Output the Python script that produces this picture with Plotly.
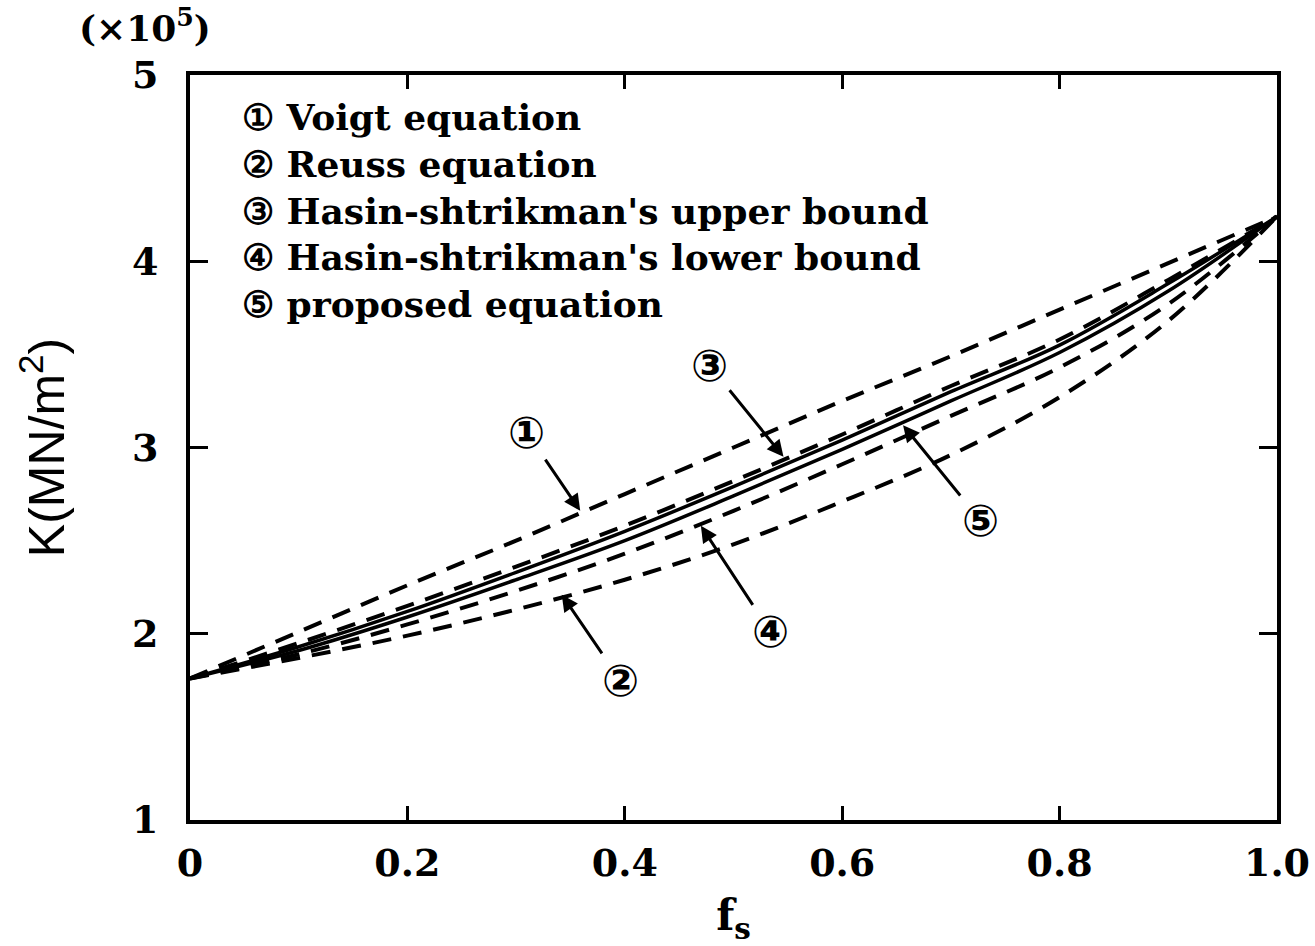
import plotly.graph_objects as go

# Solid volume fraction
f_s = [0.0, 0.1, 0.2, 0.3, 0.4, 0.5, 0.6, 0.7, 0.8, 0.9, 1.0]

# Bulk modulus K (x 10^5 MN/m^2)
k_voigt = [1.76, 2.01, 2.26, 2.50, 2.75, 3.00, 3.25, 3.49, 3.74, 3.99, 4.24]
k_hs_upper = [1.76, 1.95, 2.15, 2.36, 2.58, 2.82, 3.07, 3.33, 3.58, 3.90, 4.24]
k_prop_a = [1.76, 1.93, 2.12, 2.33, 2.55, 2.79, 3.04, 3.30, 3.55, 3.88, 4.24]
k_prop_b = [1.76, 1.91, 2.09, 2.29, 2.50, 2.74, 2.99, 3.25, 3.51, 3.84, 4.24]
k_hs_lower = [1.76, 1.89, 2.05, 2.23, 2.43, 2.66, 2.91, 3.17, 3.43, 3.77, 4.24]
k_reuss = [1.76, 1.87, 1.99, 2.13, 2.29, 2.48, 2.71, 2.96, 3.27, 3.68, 4.24]

legend_lines = [
    "\u2460 Voigt equation",
    "\u2461 Reuss equation",
    "\u2462 Hasin-shtrikman's upper bound",
    "\u2463 Hasin-shtrikman's lower bound",
    "\u2464 proposed equation",
]

x_ticks = [0, 0.2, 0.4, 0.6, 0.8, 1.0]
x_tick_text = ["<b>0</b>", "<b>0.2</b>", "<b>0.4</b>", "<b>0.6</b>", "<b>0.8</b>", "<b>1.0</b>"]
y_ticks = [1, 2, 3, 4, 5]
y_tick_text = ["<b>1</b>", "<b>2</b>", "<b>3</b>", "<b>4</b>", "<b>5</b>"]

SERIF = "DejaVu Serif"
DASH = "19px,12px"

series = [
    (k_voigt, "dash", 4),
    (k_hs_upper, "dash", 4),
    (k_prop_a, "solid", 3.5),
    (k_prop_b, "solid", 3.5),
    (k_hs_lower, "dash", 4),
    (k_reuss, "dash", 4),
]

fig = go.Figure()
for values, style, w in series:
    fig.add_trace(go.Scatter(
        x=f_s, y=values, mode="lines",
        line=dict(color="black", width=w, dash=DASH if style == "dash" else "solid",
                  shape="spline", smoothing=1.0),
        showlegend=False, hoverinfo="skip",
    ))

annotations = []

# Legend block written as one multi-line text
annotations.append(dict(
    x=0.046, y=4.27, xref="x", yref="y",
    text="<br>".join("<b>" + t + "</b>" for t in legend_lines),
    showarrow=False, xanchor="left", yanchor="middle", align="left",
    font=dict(family=SERIF, size=36, color="black"),
))

# Circled labels with pointer arrows: (label x, label y, tip x, tip y, text)
pointers = [
    (0.31, 3.08, 0.359, 2.66, "\u2460"),
    (0.396, 1.75, 0.342, 2.21, "\u2461"),
    (0.478, 3.44, 0.546, 2.95, "\u2462"),
    (0.534, 2.01, 0.47, 2.58, "\u2463"),
    (0.727, 2.61, 0.656, 3.12, "\u2464"),
]
for lx, ly, tx, ty, txt in pointers:
    annotations.append(dict(
        x=tx, y=ty, xref="x", yref="y", ax=lx, ay=ly, axref="x", ayref="y",
        text="<b>" + txt + "</b>", showarrow=True, arrowhead=2, arrowsize=1.1,
        arrowwidth=3, arrowcolor="black",
        font=dict(family="DejaVu Sans", size=44, color="black"),
    ))

# Multiplier above the y axis
annotations.append(dict(
    x=-0.041, y=1.0, xref="paper", yref="paper", text="<b>(\u00d710<sup>5</sup>)</b>",
    showarrow=False, xanchor="center", yanchor="bottom", yshift=24,
    font=dict(family=SERIF, size=36, color="black"),
))

fig.update_layout(
    width=1315, height=946,
    margin=dict(l=190, r=38, t=75, b=126),
    paper_bgcolor="white", plot_bgcolor="white",
    annotations=annotations,
    font=dict(family=SERIF, color="black"),
)

fig.update_xaxes(
    range=[0, 1.0], tickvals=x_ticks, ticktext=x_tick_text,
    ticks="inside", ticklen=14, tickwidth=3, tickcolor="black",
    showline=True, linewidth=4, linecolor="black", mirror="ticks",
    showgrid=False, zeroline=False, automargin=False,
    tickfont=dict(family=SERIF, size=38, color="black"),
    ticklabelstandoff=6,
    title=dict(text="<b>f<sub>s</sub></b>", font=dict(family=SERIF, size=42, color="black"),
               standoff=30),
)
fig.update_yaxes(
    range=[1, 5], tickvals=y_ticks, ticktext=y_tick_text,
    ticks="inside", ticklen=18, tickwidth=3, tickcolor="black",
    showline=True, linewidth=4, linecolor="black", mirror="ticks",
    showgrid=False, zeroline=False, automargin=False,
    tickfont=dict(family=SERIF, size=38, color="black"),
    ticklabelstandoff=20,
    title=dict(text="K(MN/m<sup>2</sup>)", font=dict(family="Liberation Sans", size=50, color="black"),
               standoff=52),
)

fig.write_html("out.html")
